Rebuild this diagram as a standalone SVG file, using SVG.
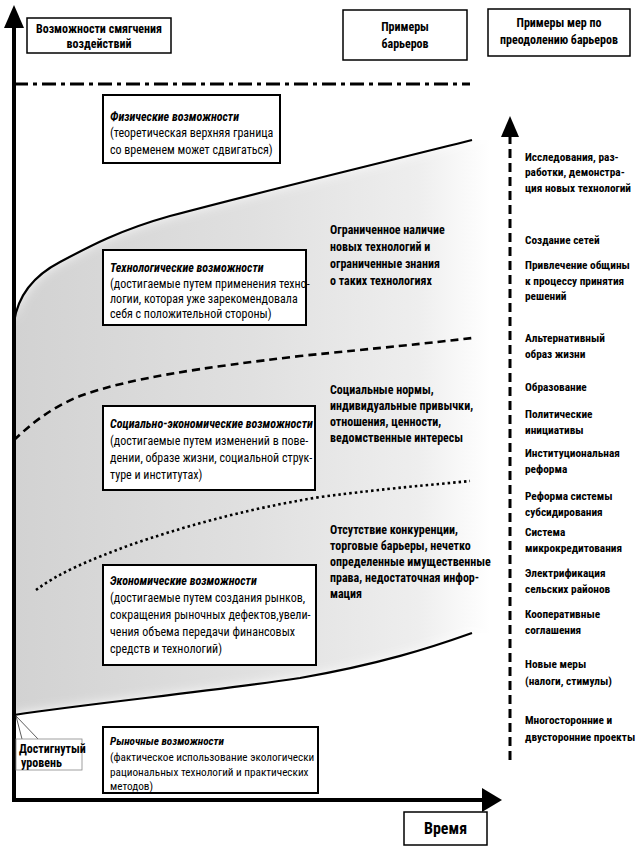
<svg xmlns="http://www.w3.org/2000/svg" width="640" height="852" viewBox="0 0 640 852">
<style>
text{font-family:"Liberation Sans Narrow","Arial Narrow","Roboto Condensed","DejaVu Sans Condensed","Liberation Sans",sans-serif;font-size:12px;fill:#000}
.b{font-weight:bold}
.t{font-weight:bold;font-style:italic}
.box{fill:#fff;stroke:#000;stroke-width:2}
.hbox{fill:#fff;stroke:#000;stroke-width:1.5}
.c{text-anchor:middle}
#measures text{font-size:11.3px}
#market text{font-size:11.2px}
</style>
<defs>
<linearGradient id="shade" x1="0" y1="0" x2="1" y2="0">
<stop offset="0" stop-color="#d2d2d2"/>
<stop offset="0.5" stop-color="#e0e0e0"/>
<stop offset="0.85" stop-color="#eeeeee"/>
<stop offset="1" stop-color="#ffffff"/>
</linearGradient>
<filter id="soft" x="-0.1" y="-0.1" width="1.2" height="1.2"><feGaussianBlur stdDeviation="6"/></filter>
</defs>
<g id="background">
<path d="M14,322 C18,295 35,275 60,262 C90,246 120,230 170,216 C260,192 380,163 472,140 L490,140 L490,633 L472,633 C430,648 380,664 300,678 C200,693 100,702 14,715 Z" fill="url(#shade)"/>
<path d="M14,322 C18,295 35,275 60,262 C90,246 120,230 170,216 C260,192 380,163 472,140 L500,140 L500,60 L14,60 Z" fill="#fff" filter="url(#soft)"/>
<path d="M14,715 C100,702 200,693 300,678 C380,664 430,648 472,633 L500,633 L500,800 L14,800 Z" fill="#fff" filter="url(#soft)"/>
</g>
<g id="connectors" fill="none" stroke="#000">
<line x1="14" y1="84" x2="470" y2="84" stroke-width="3" stroke-dasharray="14 5 4 5"/>
<path d="M14,322 C18,295 35,275 60,262 C90,246 120,230 170,216 C260,192 380,163 472,140" stroke-width="2.2"/>
<path d="M14,440 C30,425 50,408 80,396 C130,378 200,368 300,356 C380,348 430,343 472,338" stroke-width="2.6" stroke-dasharray="8 5"/>
<path d="M36,590 C60,572 90,560 130,545 C180,528 240,510 320,497 C390,488 430,485 470,481" stroke-width="2.6" stroke-dasharray="2.5 3"/>
<path d="M14,715 C100,702 200,693 300,678 C380,664 430,648 472,633" stroke-width="2.2"/>
<line x1="14" y1="802" x2="14" y2="26" stroke-width="4"/>
<polygon points="14,5 4,28 24,28" fill="#000" stroke="none"/>
<line x1="12" y1="800" x2="484" y2="800" stroke-width="4"/>
<polygon points="502,800 482,788 482,812" fill="#000" stroke="none"/>
<line x1="510" y1="760" x2="510" y2="134" stroke-width="3" stroke-dasharray="9 5"/>
<polygon points="510,116 501,137 519,137" fill="#000" stroke="none"/>
<path d="M22,739 L16,716 L38,739" stroke-width="0.8" stroke="#333"/>
</g>
<g id="header-mitigation">
<rect class="hbox" x="27" y="18" width="144" height="35"/>
<text class="b c" x="99" y="33">Возможности смягчения</text>
<text class="b c" x="99" y="48">воздействий</text>
</g>
<g id="header-barriers">
<rect class="hbox" x="343" y="10" width="124" height="50"/>
<text class="b c" x="405" y="31">Примеры</text>
<text class="b c" x="405" y="48">барьеров</text>
</g>
<g id="header-measures">
<rect class="hbox" x="488" y="9" width="142" height="47"/>
<text class="b c" x="559" y="27">Примеры мер по</text>
<text class="b c" x="559" y="44">преодолению барьеров</text>
</g>
<g id="physical">
<rect class="box" x="103" y="95" width="177" height="68"/>
<text class="t" x="110" y="121">Физические возможности</text>
<text x="110" y="137">(теоретическая верхняя граница</text>
<text x="110" y="154">со временем может сдвигаться)</text>
</g>
<g id="technological">
<rect class="box" x="103" y="250" width="203" height="75"/>
<text class="t" x="110" y="272">Технологические возможности</text>
<text x="110" y="288">(достигаемые путем применения техно-</text>
<text x="110" y="303">логии, которая уже зарекомендовала</text>
<text x="110" y="318">себя с положительной стороны)</text>
</g>
<g id="socioeconomic">
<rect class="box" x="103" y="406" width="212" height="84"/>
<text class="t" x="110" y="428">Социально-экономические возможности</text>
<text x="110" y="445">(достигаемые путем изменений в пове-</text>
<text x="110" y="462">дении, образе жизни, социальной струк-</text>
<text x="110" y="479">туре и институтах)</text>
</g>
<g id="economic">
<rect class="box" x="103" y="565" width="213" height="100"/>
<text class="t" x="110" y="585">Экономические возможности</text>
<text x="110" y="602">(достигаемые путем создания рынков,</text>
<text x="110" y="619">сокращения рыночных дефектов,увели-</text>
<text x="110" y="636">чения объема передачи финансовых</text>
<text x="110" y="653">средств и технологий)</text>
</g>
<g id="market">
<rect class="box" x="103" y="727" width="215" height="66"/>
<text class="t" x="110" y="745">Рыночные возможности</text>
<text x="110" y="761">(фактическое использование экологически</text>
<text x="110" y="776">рациональных технологий и практических</text>
<text x="110" y="790">методов)</text>
</g>
<g id="achieved">
<rect x="16" y="739" width="66" height="31" fill="#fff" stroke="#888" stroke-width="0.8"/>
<text class="b" x="19" y="753">Достигнутый</text>
<text class="b" x="21" y="767">уровень</text>
</g>
<g id="barrier-tech">
<text class="b" x="330" y="234">Ограниченное наличие</text>
<text class="b" x="330" y="251">новых технологий и</text>
<text class="b" x="330" y="268">ограниченные знания</text>
<text class="b" x="330" y="285">о таких технологиях</text>
</g>
<g id="barrier-social">
<text class="b" x="330" y="394">Социальные нормы,</text>
<text class="b" x="330" y="410">индивидуальные привычки,</text>
<text class="b" x="330" y="426">отношения, ценности,</text>
<text class="b" x="330" y="442">ведомственные интересы</text>
</g>
<g id="barrier-economic">
<text class="b" x="330" y="534">Отсутствие конкуренции,</text>
<text class="b" x="330" y="550">торговые барьеры, нечетко</text>
<text class="b" x="330" y="566">определенные имущественные</text>
<text class="b" x="330" y="582">права, недостаточная инфор-</text>
<text class="b" x="330" y="598">мация</text>
</g>
<g id="measures">
<text class="b" x="525" y="161">Исследования, раз-</text>
<text class="b" x="525" y="176">работки, демонстра-</text>
<text class="b" x="525" y="192">ция новых технологий</text>
<text class="b" x="525" y="244">Создание сетей</text>
<text class="b" x="525" y="269">Привлечение общины</text>
<text class="b" x="525" y="285">к процессу принятия</text>
<text class="b" x="525" y="300">решений</text>
<text class="b" x="525" y="342">Альтернативный</text>
<text class="b" x="525" y="358">образ жизни</text>
<text class="b" x="525" y="391">Образование</text>
<text class="b" x="525" y="418">Политические</text>
<text class="b" x="525" y="434">инициативы</text>
<text class="b" x="525" y="457">Институциональная</text>
<text class="b" x="525" y="473">реформа</text>
<text class="b" x="525" y="500">Реформа системы</text>
<text class="b" x="525" y="516">субсидирования</text>
<text class="b" x="525" y="536">Система</text>
<text class="b" x="525" y="552">микрокредитования</text>
<text class="b" x="525" y="577">Электрификация</text>
<text class="b" x="525" y="593">сельских районов</text>
<text class="b" x="525" y="618">Кооперативные</text>
<text class="b" x="525" y="634">соглашения</text>
<text class="b" x="525" y="668">Новые меры</text>
<text class="b" x="525" y="685">(налоги, стимулы)</text>
<text class="b" x="525" y="724">Многосторонние и</text>
<text class="b" x="525" y="741">двусторонние проекты</text>
</g>
<g id="time">
<rect class="hbox" x="404" y="812" width="83" height="33"/>
<text class="b c" x="445.5" y="834" style="font-size:16px">Время</text>
</g>
</svg>
